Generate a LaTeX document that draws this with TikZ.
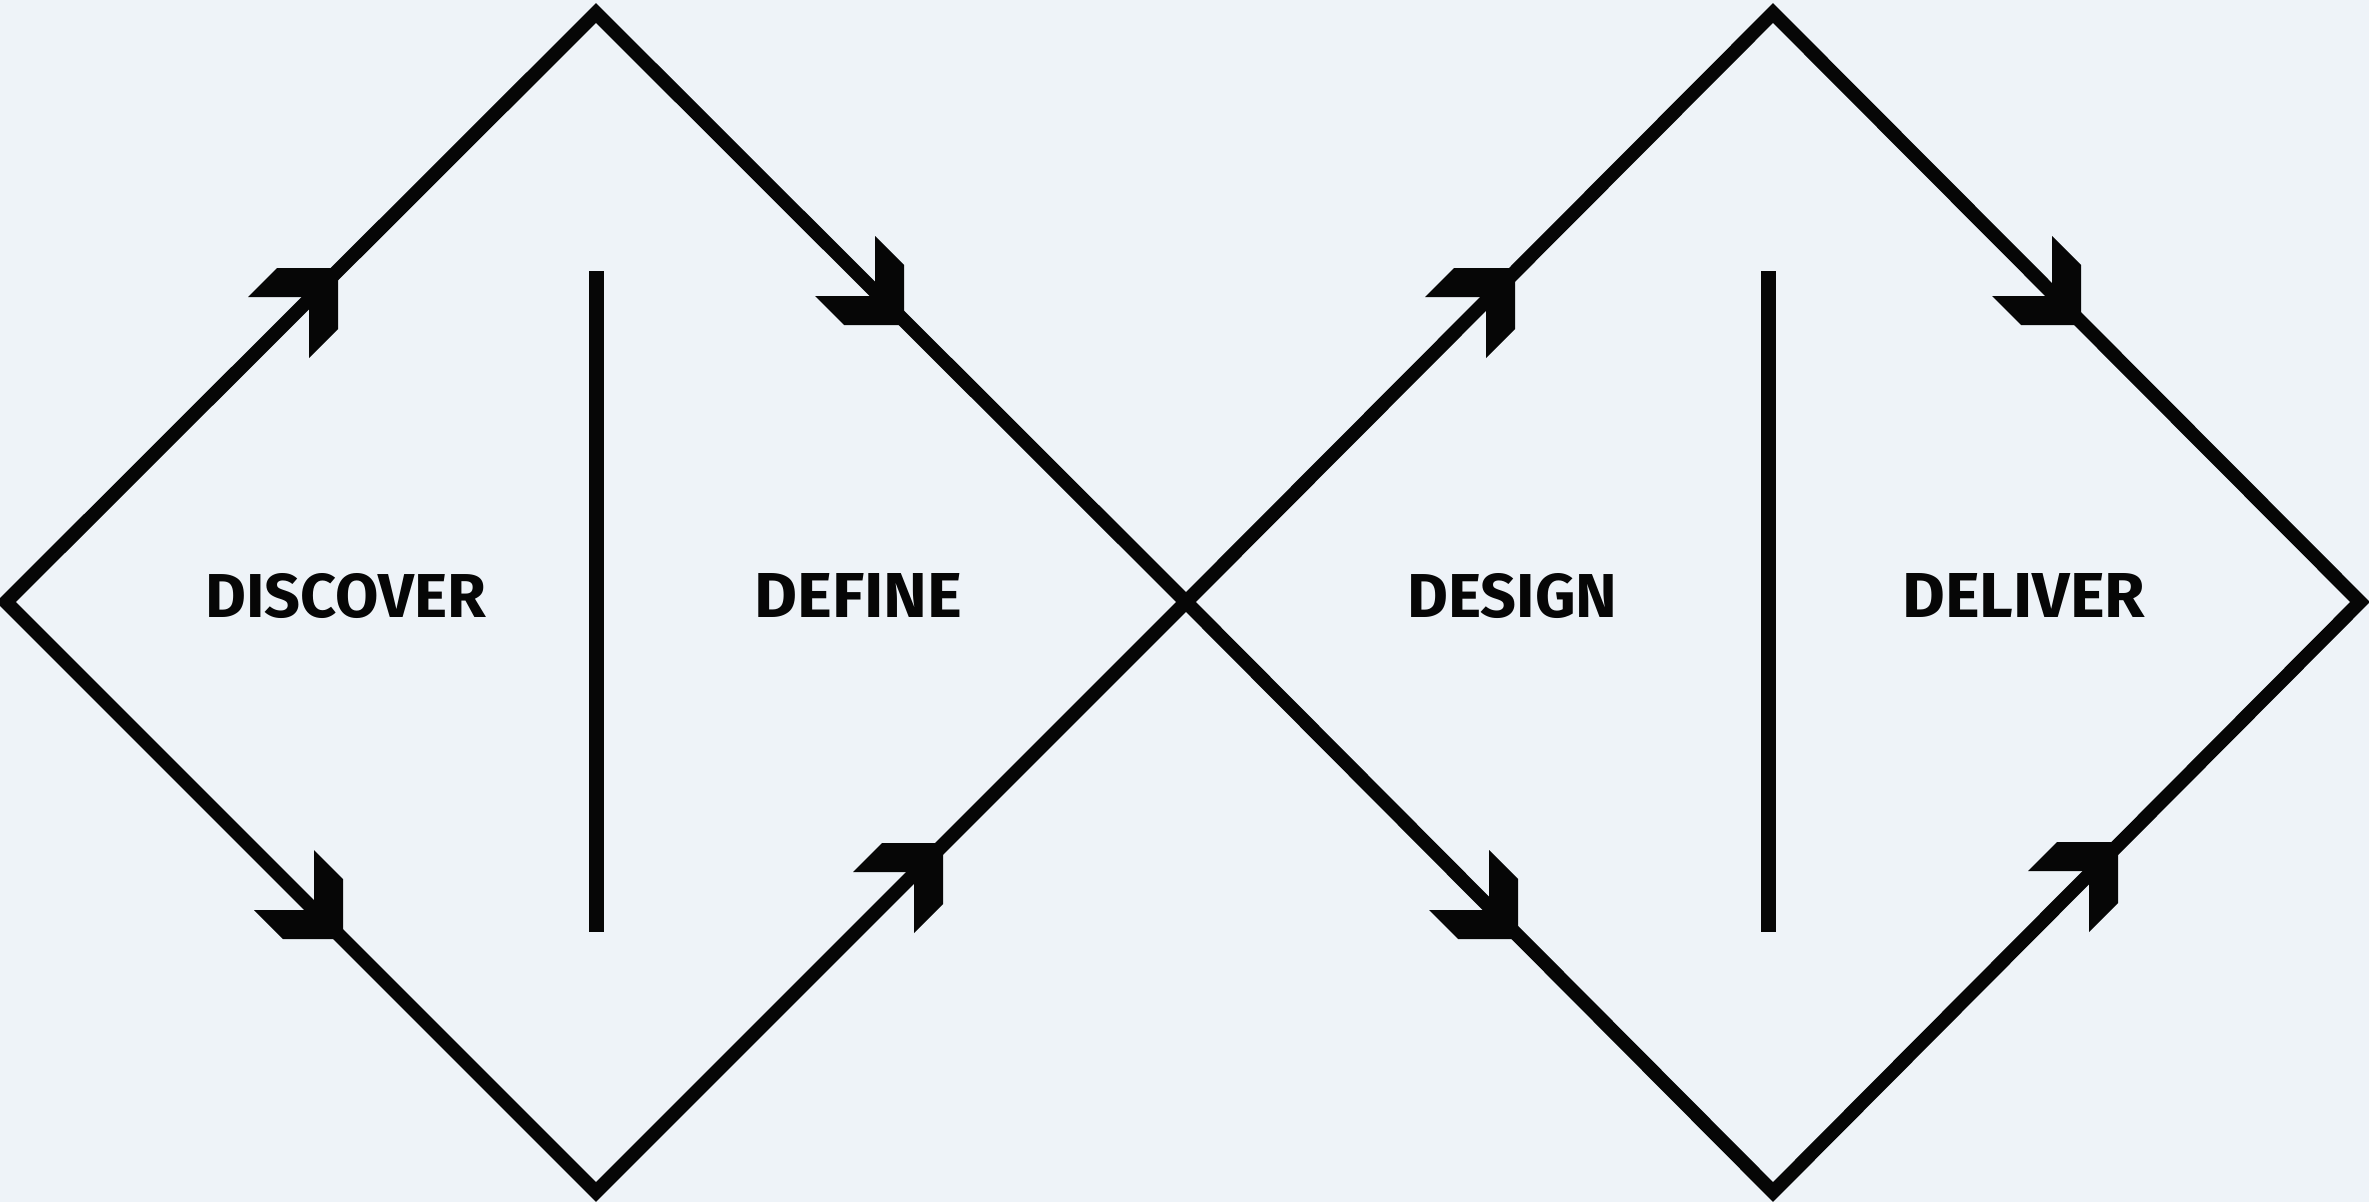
\documentclass[tikz,border=0pt]{standalone}
\usepackage{fontspec}
\newfontfamily\labelfont{Fira Sans}
\definecolor{bg}{HTML}{EEF3F8}
\definecolor{ink}{HTML}{060606}
\tikzset{
  diamondline/.style={draw=ink, line width=14pt, line join=miter},
  divider/.style={draw=ink, line width=15pt},
  lbl/.style={inner sep=0pt, anchor=base west, text=ink, font=\labelfont\bfseries},
  uphead/.pic={\fill[ink] (-61,0) -- (0,0) -- (0,61) -- (-29,90) -- (-29,29) -- (-90,29) -- cycle;},
  downhead/.pic={\fill[ink] (0,-60) -- (0,0) -- (-60,0) -- (-89,-29) -- (-29,-29) -- (-29,-89) -- cycle;}
}
\begin{document}
\begin{tikzpicture}[x=1pt,y=-1pt]
\useasboundingbox (0,0) rectangle (2369,1202);
\fill[bg] (0,0) rectangle (2369,1202);
% diamond corners
\coordinate (l1) at (6,602);
\coordinate (t1) at (596,13);
\coordinate (c) at (1186,602);
\coordinate (b1) at (596,1192);
\coordinate (t2) at (1773,13);
\coordinate (r2) at (2360,602);
\coordinate (b2) at (1773,1192);
\draw[diamondline] (l1) -- (t1) -- (c) -- (b1) -- cycle;
\draw[diamondline] (c) -- (t2) -- (r2) -- (b2) -- cycle;
% dividers
\coordinate (v1a) at (596,271);
\coordinate (v1b) at (596,932);
\coordinate (v2a) at (1768,271);
\coordinate (v2b) at (1768,932);
\draw[divider] (v1a) -- (v1b);
\draw[divider] (v2a) -- (v2b);
% arrow heads
\coordinate (a1) at (338,268);
\coordinate (a2) at (904,325);
\coordinate (a3) at (1518,939);
\coordinate (a4) at (2118,842);
\coordinate (a5) at (343,939);
\coordinate (a6) at (943,843);
\coordinate (a7) at (1515,268);
\coordinate (a8) at (2081,325);
\pic at (a1) {uphead};
\pic at (a6) {uphead};
\pic at (a7) {uphead};
\pic at (a4) {uphead};
\pic at (a2) {downhead};
\pic at (a5) {downhead};
\pic at (a3) {downhead};
\pic at (a8) {downhead};
% labels
\node[lbl] (discover) at (205,617) {\resizebox{281pt}{44pt}{DISCOVER}};
\node[lbl] (define) at (754,617) {\resizebox{208pt}{44pt}{DEFINE}};
\node[lbl] (design) at (1407,617) {\resizebox{210pt}{44pt}{DESIGN}};
\node[lbl] (deliver) at (1902,617) {\resizebox{243pt}{44pt}{DELIVER}};
\end{tikzpicture}
\end{document}
